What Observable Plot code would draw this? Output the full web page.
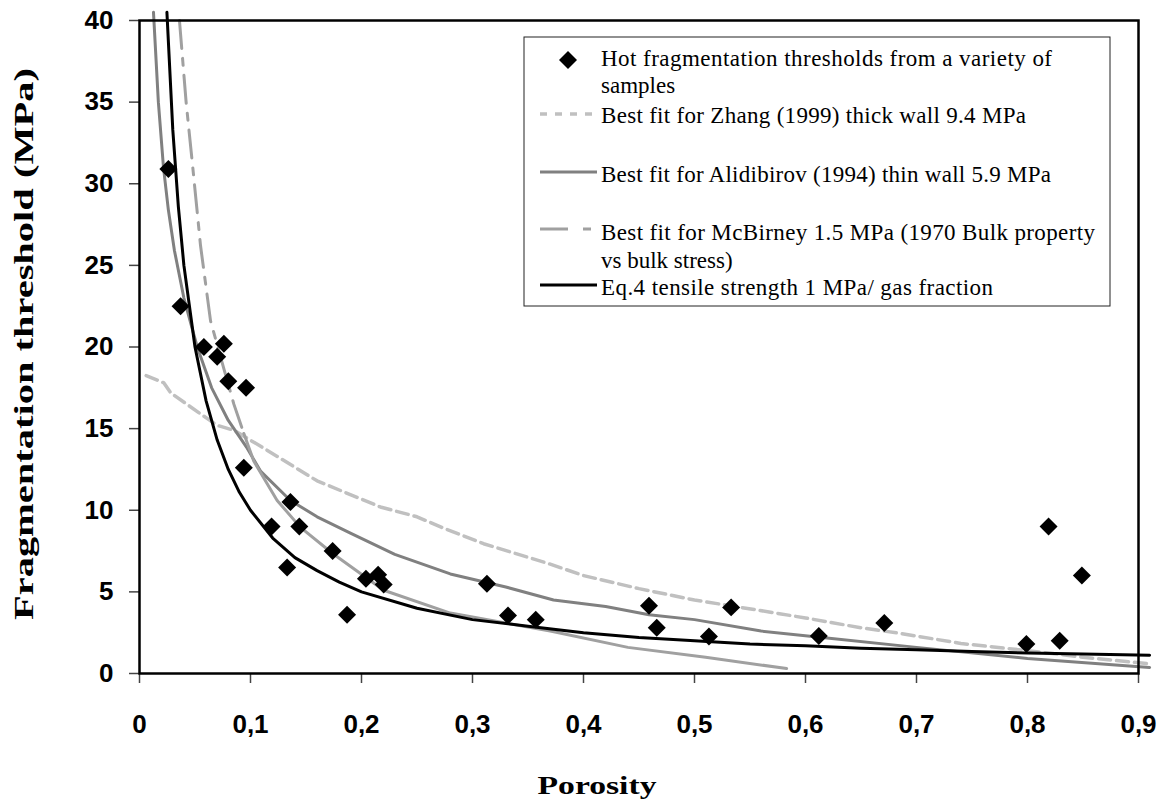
<!DOCTYPE html>
<html><head><meta charset="utf-8">
<script src="https://cdn.jsdelivr.net/npm/d3@7"></script>
<script src="https://cdn.jsdelivr.net/npm/@observablehq/plot@0.6"></script>
<style>
body{margin:0;background:#fff;}
#wrap{position:relative;width:1165px;height:806px;overflow:hidden;}
#wrap [aria-label="x-axis tick label"], #wrap [aria-label="y-axis tick label"]{font-family:"Liberation Sans",Arial,sans-serif;font-weight:bold;font-size:26px;}
#wrap [aria-label="x-axis tick"], #wrap [aria-label="y-axis tick"]{stroke:#444;stroke-width:1.5px;}
</style></head><body><div id="wrap"></div>
<script>
// Measured samples (porosity, fragmentation threshold MPa)
const sampleP = [0.026,0.037,0.058,0.070,0.076,0.080,0.096,0.094,0.119,0.133,0.136,0.144,0.174,0.187,0.204,0.215,0.220,0.313,0.332,0.357,0.459,0.466,0.513,0.533,0.612,0.671,0.799,0.819,0.829,0.849];
const sampleV = [30.9,22.5,20.0,19.4,20.2,17.9,17.5,12.6,9.0,6.5,10.5,9.0,7.5,3.6,5.8,6.05,5.45,5.5,3.55,3.3,4.15,2.8,2.27,4.05,2.3,3.1,1.8,9.0,2.0,6.0];

// Best fit for Zhang (1999) thick wall 9.4 MPa
const zhangP = [0.006,0.022,0.028,0.055,0.07,0.085,0.112,0.16,0.217,0.25,0.274,0.31,0.37,0.4,0.45,0.5,0.559,0.6,0.65,0.686,0.74,0.8,0.85,0.909];
const zhangV = [18.25,17.8,17.2,15.9,15.2,14.9,13.8,11.8,10.2,9.6,8.9,7.95,6.7,6.0,5.2,4.5,3.86,3.4,2.8,2.45,1.84,1.4,1.0,0.6];

// Best fit for Alidibirov (1994) thin wall 5.9 MPa
const alidP = [0.0126,0.017,0.0216,0.026,0.0315,0.04,0.052,0.065,0.08,0.097,0.109,0.136,0.16,0.19,0.23,0.28,0.33,0.373,0.42,0.459,0.5,0.56,0.615,0.70,0.80,0.91];
const alidV = [40.5,35,31,28.4,25.9,23,20,17.5,15.5,13.8,12.4,10.6,9.6,8.6,7.3,6.1,5.3,4.5,4.1,3.6,3.3,2.6,2.2,1.6,0.92,0.37];

// Best fit for McBirney 1.5 MPa
const mcbP = [0.036,0.042,0.048,0.055,0.064,0.073,0.085,0.094,0.103,0.124,0.145,0.174,0.22,0.28,0.37,0.44,0.51,0.583];
const mcbV = [40,35,31,26.2,21.6,19.4,16.5,14.7,13.0,10.6,8.95,7.35,5.1,3.7,2.6,1.6,1.0,0.3];

// Eq.4 tensile strength 1 MPa / gas fraction
const eq4P = [0.0247,0.03,0.035,0.04,0.05,0.06,0.07,0.08,0.09,0.1,0.12,0.14,0.16,0.18,0.2,0.25,0.3,0.35,0.4,0.45,0.5,0.55,0.6,0.65,0.7,0.75,0.8,0.85,0.91];
const eq4V = [40.5,33.3,28.6,25,20,16.7,14.3,12.5,11.1,10,8.3,7.1,6.3,5.6,5,4,3.3,2.9,2.5,2.2,2,1.8,1.7,1.55,1.45,1.35,1.25,1.2,1.12];

const xTicks = [0,0.1,0.2,0.3,0.4,0.5,0.6,0.7,0.8,0.9];
const yTicks = [0,5,10,15,20,25,30,35,40];

const xTitle = "Porosity";
const yTitle = "Fragmentation threshold (MPa)";
const legendLabels = [
  "Hot fragmentation thresholds from a variety of",
  "samples",
  "Best fit for Zhang (1999) thick wall 9.4 MPa",
  "Best fit for Alidibirov (1994) thin wall 5.9 MPa",
  "Best fit for McBirney 1.5 MPa (1970 Bulk property",
  "vs bulk stress)",
  "Eq.4 tensile strength 1 MPa/ gas fraction"
];

const mk = (P, V) => P.map((p, i) => ({p, v: V[i]}));
const samples = mk(sampleP, sampleV);
const zhang = mk(zhangP, zhangV);
const alid = mk(alidP, alidV);
const mcb = mk(mcbP, mcbV);
const mcbUpper = mcb.filter(d => d.p <= 0.094);
const mcbLower = mcb.filter(d => d.p >= 0.094);
const eq4 = mk(eq4P, eq4V);

const chart = Plot.plot({
  width: 1165, height: 806,
  marginLeft: 139, marginRight: 27, marginTop: 20, marginBottom: 133,
  x: {domain: [0, 0.9]},
  y: {domain: [0, 40]},
  style: {background: "white", overflow: "visible"},
  marks: [
    Plot.line(zhang, {x: "p", y: "v", stroke: "#c0c0c0", strokeWidth: 3.5, strokeDasharray: "12,6"}),
    Plot.line(alid, {x: "p", y: "v", stroke: "#808080", strokeWidth: 3}),
    Plot.line(mcbUpper, {x: "p", y: "v", stroke: "#a0a0a0", strokeWidth: 3, strokeDasharray: "28,10,7,10"}),
    Plot.line(mcbLower, {x: "p", y: "v", stroke: "#a0a0a0", strokeWidth: 3}),
    Plot.line(eq4, {x: "p", y: "v", stroke: "black", strokeWidth: 3}),
    Plot.dot(samples, {x: "p", y: "v", symbol: "diamond2", r: 8.1, fill: "black", stroke: "none"}),
    Plot.axisX({ticks: xTicks, tickFormat: d => String(d).replace(".", ","), tickSize: 10, tickPadding: 31, label: null}),
    Plot.axisY({ticks: yTicks, tickSize: 10, tickPadding: 16, label: null}),
    Plot.frame({stroke: "black", strokeWidth: 2.5})
  ]
});
document.getElementById("wrap").appendChild(chart);

const svg = d3.select(chart);
const serif = "'Liberation Serif','Times New Roman',serif";
const g = svg.append("g");

// axis titles
g.append("text")
  .attr("transform", "translate(33,344) rotate(-90)")
  .attr("text-anchor", "middle")
  .attr("font-family", serif).attr("font-weight", "bold").attr("font-size", 28)
  .attr("textLength", 552).attr("lengthAdjust", "spacingAndGlyphs")
  .attr("fill", "black").text(yTitle);
g.append("text")
  .attr("x", 597).attr("y", 794)
  .attr("text-anchor", "middle")
  .attr("font-family", serif).attr("font-weight", "bold").attr("font-size", 26)
  .attr("textLength", 119).attr("lengthAdjust", "spacingAndGlyphs")
  .attr("fill", "black").text(xTitle);

// legend
const lg = g.append("g").attr("text-anchor", "start");
lg.append("rect").attr("x", 524).attr("y", 37).attr("width", 586).attr("height", 269)
  .attr("fill", "white").attr("stroke", "#222").attr("stroke-width", 1);
const baselines = [66, 93, 123, 182, 240, 268, 295];
const widths = [451, null, 425, 450, 494, null, 392];
legendLabels.forEach((t, i) => {
  const tx = lg.append("text").attr("x", 601).attr("y", baselines[i])
    .attr("text-anchor", "start")
    .attr("font-family", serif).attr("font-size", 23).attr("fill", "black").text(t);
  if (widths[i]) tx.attr("textLength", widths[i]).attr("lengthAdjust", "spacing");
});
// swatches
lg.append("path").attr("d", "M568,51L577,60L568,69L559,60Z").attr("fill", "black");
lg.append("line").attr("x1", 540).attr("x2", 597).attr("y1", 114).attr("y2", 114)
  .attr("stroke", "#c0c0c0").attr("stroke-width", 3.5).attr("stroke-dasharray", "7,8");
lg.append("line").attr("x1", 540).attr("x2", 597).attr("y1", 172).attr("y2", 172)
  .attr("stroke", "#808080").attr("stroke-width", 3);
lg.append("line").attr("x1", 540).attr("x2", 597).attr("y1", 229).attr("y2", 229)
  .attr("stroke", "#a0a0a0").attr("stroke-width", 3).attr("stroke-dasharray", "28,15,8,15");
lg.append("line").attr("x1", 540).attr("x2", 597).attr("y1", 285).attr("y2", 285)
  .attr("stroke", "black").attr("stroke-width", 3);
</script>
</body></html>
